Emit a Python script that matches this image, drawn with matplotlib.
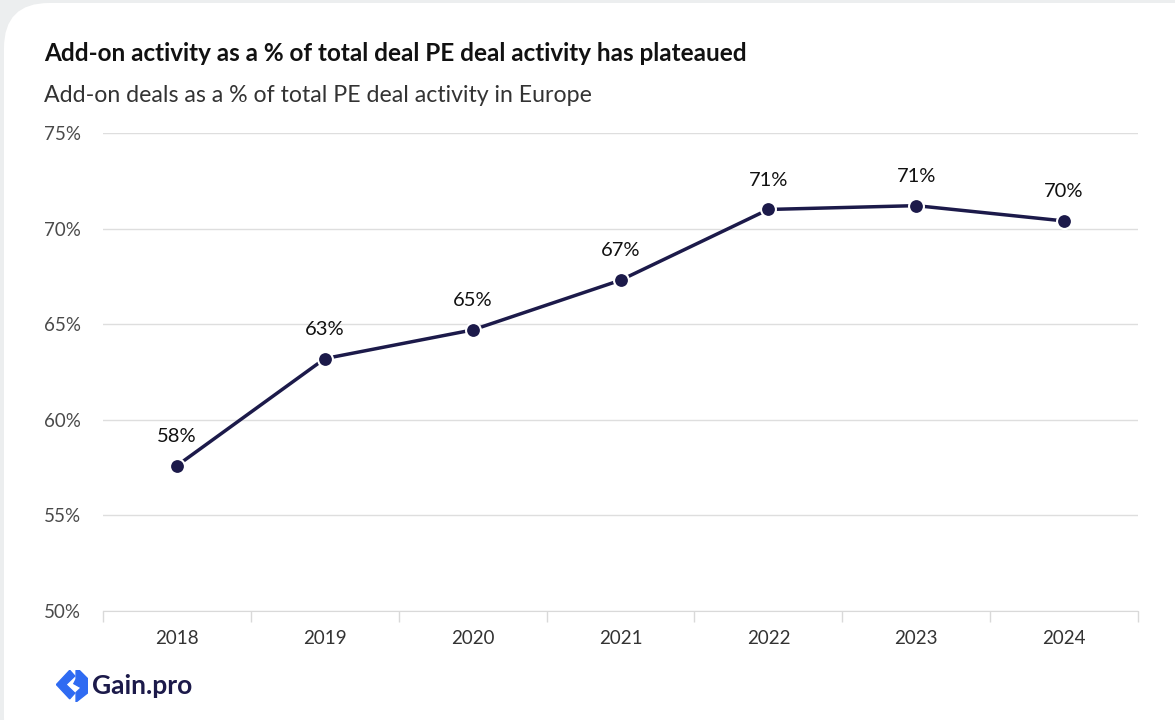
import numpy as np
import matplotlib.pyplot as plt
from matplotlib.patches import FancyBboxPatch, Polygon

# add-on share of European PE deals, by year
years = ["2018", "2019", "2020", "2021", "2022", "2023", "2024"]
addon_share = [57.6, 63.2, 64.7, 67.3, 71.0, 71.2, 70.4]
share_labels = ["58%", "63%", "65%", "67%", "71%", "71%", "70%"]
y_ticks = [50, 55, 60, 65, 70, 75]

navy = "#1c1a4a"
plt.rcParams["font.family"] = ["Lato", "DejaVu Sans"]

fig = plt.figure(figsize=(11.75, 7.2), dpi=100)
fig.patch.set_facecolor("#eceeef")

# white rounded card on a grey page, drawn in a background axes
bg = fig.add_axes([0, 0, 1, 1], zorder=-10)
bg.set_xlim(0, 1175)
bg.set_ylim(720, 0)
bg.axis("off")
bg.add_patch(FancyBboxPatch((4, 3), 1240, 760, boxstyle="round,pad=0,rounding_size=45",
                            facecolor="white", edgecolor="none"))

ax = fig.add_axes([0.0877, 0.1514, 0.8808, 0.6639])
ax.set_facecolor("none")

x = np.arange(len(years))
ax.plot(x, addon_share, color=navy, lw=2.5, zorder=3)
ax.scatter(x, addon_share, s=115, color=navy, edgecolor="white", linewidth=1.5, zorder=4)
for xi, v, lab in zip(x, addon_share, share_labels):
    ax.annotate(lab, (xi, v), xytext=(0, 15), textcoords="offset points",
                ha="center", va="bottom", fontsize=14.5, color="#111111")

ax.set_xlim(-0.5, len(years) - 0.5)
ax.set_ylim(50, 75)
ax.set_yticks(y_ticks)
ax.set_yticklabels([f"{t}%" for t in y_ticks])
ax.set_xticks(x)
ax.set_xticklabels(years)
ax.tick_params(axis="x", length=0, pad=14, labelsize=13.5, labelcolor="#333333")
ax.tick_params(axis="y", length=0, pad=16, labelsize=13.5, labelcolor="#4a4a4a")

# band boundary ticks below the axis line
ax.set_xticks(np.arange(-0.5, len(years)), minor=True)
ax.tick_params(axis="x", which="minor", length=8, color="#d9d9d9", width=1)

ax.grid(axis="y", color="#dedede", lw=1)
ax.set_axisbelow(True)
for s in ["top", "right", "left"]:
    ax.spines[s].set_visible(False)
ax.spines["bottom"].set_color("#d9d9d9")

fig.text(0.0375, 0.926, "Add-on activity as a % of total deal PE deal activity has plateaued",
         fontsize=17.5, fontweight="bold", color="#111111", va="center")
fig.text(0.0375, 0.868, "Add-on deals as a % of total PE deal activity in Europe",
         fontsize=16.7, color="#333333", va="center")

# Gain.pro logo: blue mark plus wordmark
blue = "#2f6bf2"
logo = fig.add_axes([0.048, 0.025, 0.027, 0.044])
logo.set_xlim(0, 1)
logo.set_ylim(0, 1)
logo.axis("off")
logo.add_patch(Polygon([[0.42, 1.0], [0.0, 0.55], [0.42, 0.1], [0.58, 0.28], [0.3, 0.55], [0.58, 0.82]],
                       closed=True, color=blue))
logo.add_patch(Polygon([[0.62, 1.0], [0.72, 1.0], [1.0, 0.72], [1.0, 0.3], [0.62, 0.0], [0.62, 0.3],
                        [0.78, 0.45], [0.55, 0.58], [0.62, 0.72]], closed=True, color=blue))
fig.text(0.0785, 0.047, "Gain.pro", fontsize=19, fontweight="bold", color=navy, va="center")

fig.savefig("out.png", dpi=100)
